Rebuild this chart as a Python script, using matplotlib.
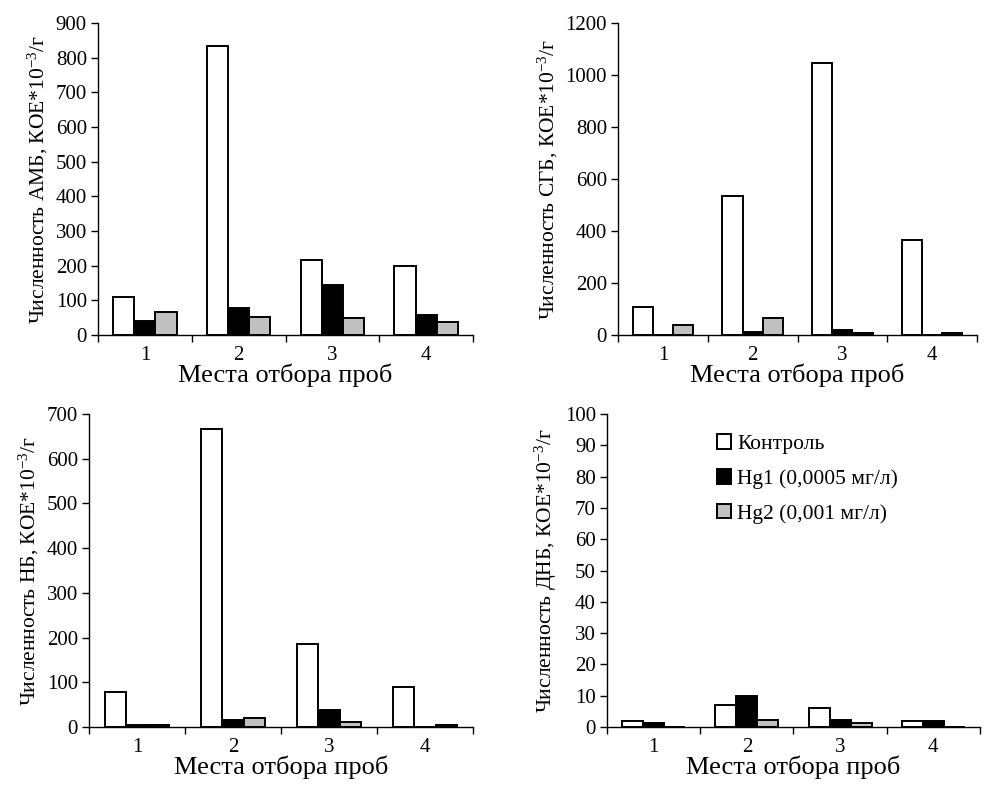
import numpy as np
import matplotlib
matplotlib.use("Agg")
import matplotlib.pyplot as plt
from matplotlib.patches import Patch

plt.rcParams['font.family'] = ['Liberation Serif', 'DejaVu Serif']
plt.rcParams['mathtext.fontset'] = 'custom'
plt.rcParams['mathtext.rm'] = 'Liberation Serif'
plt.rcParams['mathtext.it'] = 'Liberation Serif:italic'

sites = ["1", "2", "3", "4"]
series_names = ["Контроль", "Hg1 (0,0005 мг/л)", "Hg2 (0,001 мг/л)"]

# численность по группам: [контроль, Hg1, Hg2] для мест 1..4
amb_control = [110, 834, 215, 200]
amb_hg1 = [40, 77, 144, 58]
amb_hg2 = [67, 53, 48, 38]

sgb_control = [109, 535, 1047, 366]
sgb_hg1 = [0, 13, 19, 0]
sgb_hg2 = [39, 64, 6, 6]

nb_control = [79, 667, 186, 90]
nb_hg1 = [5, 16, 39, 0]
nb_hg2 = [5, 20, 12, 5]

dnb_control = [1.8, 7.1, 6.0, 1.8]
dnb_hg1 = [1.4, 10.0, 2.3, 1.8]
dnb_hg2 = [0, 2.3, 1.2, 0]

panels = [
    ("АМБ", [amb_control, amb_hg1, amb_hg2], 900, 100),
    ("СГБ", [sgb_control, sgb_hg1, sgb_hg2], 1200, 200),
    ("НБ", [nb_control, nb_hg1, nb_hg2], 700, 100),
    ("ДНБ", [dnb_control, dnb_hg1, dnb_hg2], 100, 10),
]

# axes rectangles in pixels: left, right, top, bottom
boxes = [(98, 473, 23, 335), (618, 977, 23, 335),
         (89, 473, 414, 727), (607, 980, 414, 727)]

colors = ["white", "black", "#c0c0c0"]
W, H = 987, 787
fig = plt.figure(figsize=(W / 100, H / 100), dpi=100)

x = np.arange(1, len(sites) + 1)
bw = 0.225

for (name, data, ymax, step), (l, r, t, b) in zip(panels, boxes):
    ax = fig.add_axes([l / W, (H - b) / H, (r - l) / W, (b - t) / H])
    for i, vals in enumerate(data):
        ax.bar(x + (i - 1) * bw, vals, bw, color=colors[i],
               edgecolor="black", linewidth=1.4, zorder=3)
    ax.set_xlim(0.5, 4.5)
    ax.set_ylim(0, ymax)
    ax.set_yticks(np.arange(0, ymax + step / 2, step))
    ax.set_xticks(np.arange(0.5, 4.6, 1.0))
    ax.set_xticklabels([])
    ax.set_xticks(x, minor=True)
    ax.set_xticklabels(sites, minor=True)
    ax.tick_params(axis="x", which="major", length=5, width=1, direction="out")
    ax.tick_params(axis="x", which="minor", length=0, pad=8, labelsize=15)
    ax.tick_params(axis="y", length=5, width=1, direction="out", labelsize=15, pad=3)
    for s in ["top", "right"]:
        ax.spines[s].set_visible(False)
    for s in ["left", "bottom"]:
        ax.spines[s].set_linewidth(1)
    ax.set_xlabel("Места отбора проб", fontsize=19, labelpad=-1)
    ax.set_ylabel("Численность " + name + r", КОЕ*10$^{-3}$/г", fontsize=15.5, labelpad=4)

    if name == "ДНБ":
        handles = [Patch(facecolor=c, edgecolor="black", linewidth=1.4) for c in colors]
        ax.legend(handles, series_names, loc="upper left", bbox_to_anchor=(0.295, 0.935),
                  borderaxespad=0, borderpad=0, frameon=False, fontsize=15.5,
                  handlelength=0.65, handleheight=0.65,
                  handletextpad=0.3, labelspacing=0.7)

fig.savefig("out.png", dpi=100)
